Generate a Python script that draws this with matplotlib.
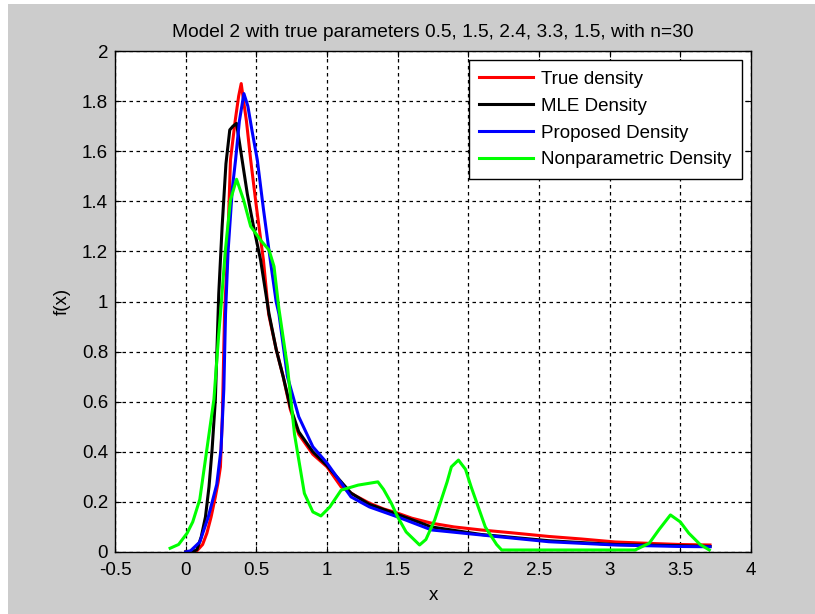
import matplotlib
matplotlib.use('Agg')
import matplotlib.pyplot as plt
from matplotlib.patches import Rectangle

plt.rcParams['font.family'] = ['Liberation Sans', 'DejaVu Sans']

# data
x_true = [0.0, 0.08, 0.12, 0.15, 0.18, 0.21, 0.23, 0.246, 0.26, 0.275, 0.294,
          0.317, 0.35, 0.375, 0.393, 0.41, 0.43, 0.46, 0.50, 0.55, 0.587, 0.64,
          0.69, 0.74, 0.80, 0.90, 1.0, 1.1, 1.2, 1.3, 1.4, 1.5, 1.6, 1.74, 1.9,
          2.09, 2.3, 2.57, 2.8, 3.04, 3.3, 3.5, 3.71]
y_true = [0.0, 0.005, 0.03, 0.075, 0.14, 0.22, 0.28, 0.34, 0.55, 0.95, 1.17,
          1.565, 1.72, 1.82, 1.87, 1.80, 1.72, 1.565, 1.38, 1.166, 0.95, 0.81,
          0.70, 0.57, 0.47, 0.39, 0.34, 0.26, 0.225, 0.195, 0.172, 0.155, 0.135,
          0.115, 0.1, 0.088, 0.077, 0.062, 0.052, 0.04, 0.034, 0.03, 0.028]

x_mle = [0.0, 0.05, 0.08, 0.11, 0.14, 0.165, 0.187, 0.21, 0.234, 0.258, 0.285,
         0.312, 0.335, 0.36, 0.39, 0.436, 0.48, 0.53, 0.59, 0.64, 0.69, 0.74,
         0.8, 0.9, 1.0, 1.17, 1.3, 1.5, 1.74, 2.09, 2.57, 3.04, 3.5, 3.71]
y_mle = [0.0, 0.0, 0.01, 0.06, 0.14, 0.26, 0.41, 0.607, 1.03, 1.30, 1.55,
         1.685, 1.70, 1.711, 1.60, 1.43, 1.30, 1.166, 0.95, 0.81, 0.70, 0.58,
         0.48, 0.40, 0.345, 0.235, 0.19, 0.15, 0.10, 0.07, 0.045, 0.03, 0.025,
         0.022]

x_prop = [0.0, 0.035, 0.1, 0.16, 0.22, 0.25, 0.27, 0.282, 0.30, 0.33, 0.353,
          0.38, 0.412, 0.44, 0.47, 0.507, 0.55, 0.6, 0.64, 0.66, 0.72, 0.75,
          0.8, 0.9, 1.0, 1.17, 1.3, 1.5, 1.74, 2.09, 2.57, 3.04, 3.5, 3.71]
y_prop = [0.0, 0.005, 0.04, 0.14, 0.27, 0.41, 0.65, 0.95, 1.2, 1.45, 1.565,
          1.72, 1.83, 1.78, 1.68, 1.565, 1.37, 1.16, 1.0, 0.95, 0.70, 0.64,
          0.54, 0.42, 0.355, 0.22, 0.18, 0.14, 0.088, 0.068, 0.041, 0.028,
          0.022, 0.021]

x_np = [-0.11, -0.05, 0.01, 0.05, 0.10, 0.15, 0.20, 0.234, 0.246, 0.28, 0.317,
        0.36, 0.41, 0.46, 0.53, 0.59, 0.625, 0.66, 0.72, 0.77, 0.84, 0.9,
        0.957, 1.02, 1.10, 1.22, 1.36, 1.40, 1.455, 1.50, 1.56, 1.655, 1.70,
        1.762, 1.85, 1.88, 1.93, 1.98, 2.02, 2.12, 2.2, 2.236, 3.18, 3.28,
        3.35, 3.43, 3.5, 3.56, 3.64, 3.705]
y_np = [0.015, 0.03, 0.075, 0.12, 0.21, 0.41, 0.61, 0.87, 0.95, 1.20, 1.405,
        1.488, 1.405, 1.30, 1.245, 1.205, 1.14, 0.97, 0.74, 0.47, 0.234, 0.16,
        0.144, 0.18, 0.247, 0.267, 0.28, 0.25, 0.195, 0.14, 0.08, 0.028, 0.05,
        0.128, 0.28, 0.34, 0.367, 0.33, 0.26, 0.10, 0.03, 0.008, 0.008, 0.035,
        0.09, 0.148, 0.12, 0.075, 0.03, 0.008]

labels = ['True density', 'MLE Density', 'Proposed Density', 'Nonparametric Density']
title = 'Model 2 with true parameters 0.5, 1.5, 2.4, 3.3, 1.5, with n=30'

fs = 13.5
fig = plt.figure(figsize=(8.15, 6.14), dpi=100, facecolor='white')
# matlab grey figure area (small white margin top/left like the screenshot)
fig.patches.append(Rectangle((8 / 815, 0), 1, 1 - 4 / 614, transform=fig.transFigure,
                             facecolor='#cccccc', edgecolor='none', zorder=-10))

ax = fig.add_axes([115 / 815, 62 / 614, 636 / 815, 501 / 614])
ax.set_facecolor('white')

lw = 2.2
ax.plot(x_true, y_true, color='#ff0000', lw=lw, label=labels[0])
ax.plot(x_mle, y_mle, color='black', lw=lw, label=labels[1])
ax.plot(x_prop, y_prop, color='#0000ff', lw=lw, label=labels[2])
ax.plot(x_np, y_np, color='#00ff00', lw=lw, label=labels[3])

ax.set_xlim(-0.5, 4)
ax.set_ylim(0, 2)
ax.set_xticks([-0.5, 0, 0.5, 1, 1.5, 2, 2.5, 3, 3.5, 4])
ax.set_xticklabels(['-0.5', '0', '0.5', '1', '1.5', '2', '2.5', '3', '3.5', '4'])
ax.set_yticks([0, 0.2, 0.4, 0.6, 0.8, 1, 1.2, 1.4, 1.6, 1.8, 2])
ax.set_yticklabels(['0', '0.2', '0.4', '0.6', '0.8', '1', '1.2', '1.4', '1.6', '1.8', '2'])
ax.tick_params(direction='in', top=True, right=True, length=4, width=0.8,
               labelsize=fs, pad=5, colors='black')
ax.tick_params(axis='x', pad=7)
ax.grid(True, color='black', linestyle=(0, (2.8, 2.8)), linewidth=0.9)
ax.set_axisbelow(True)
for s in ax.spines.values():
    s.set_linewidth(1.0)

ax.set_title(title, fontsize=13.8, pad=10)
ax.set_xlabel('x', fontsize=fs, labelpad=6)
ax.set_ylabel('f(x)', fontsize=fs, labelpad=8)

leg = ax.legend(loc='upper right', fontsize=fs, frameon=True, fancybox=False,
                framealpha=1, edgecolor='black', handlelength=2.9,
                labelspacing=0.52, borderaxespad=0.5, handletextpad=0.4,
                borderpad=0.55)
leg.get_frame().set_linewidth(1.0)

fig.savefig('out.png', dpi=100, facecolor=fig.get_facecolor())
